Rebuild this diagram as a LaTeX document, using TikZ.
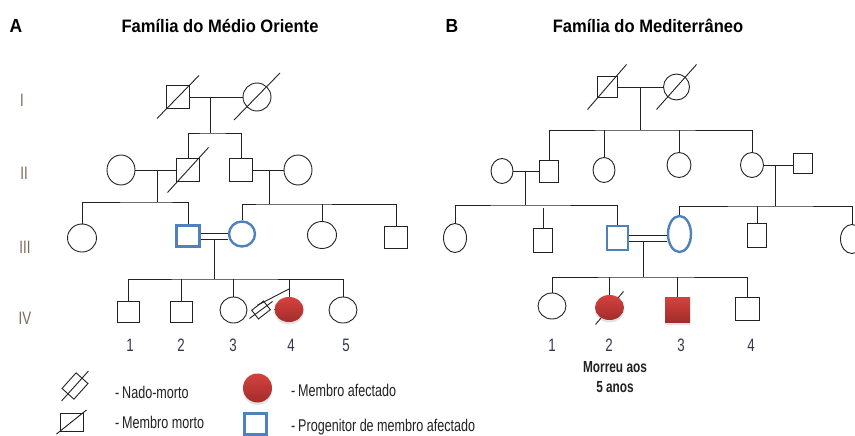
\documentclass[tikz,border=0pt]{standalone}
\usepackage{fontspec}
\setmainfont{Liberation Sans}[FakeStretch=0.74]
\newfontfamily\ttlfont{Liberation Sans}[FakeStretch=0.92]
\usetikzlibrary{shapes.geometric,shadows}
\definecolor{ln}{HTML}{222222}
\definecolor{blu}{HTML}{4F81BD}
\definecolor{redtop}{HTML}{D4423F}
\definecolor{redbot}{HTML}{A22D2A}
\definecolor{genc}{HTML}{7A6A5A}
\definecolor{numc}{HTML}{33384C}
\tikzset{
  pl/.style={draw=ln,line width=0.9pt},
  sz/.style 2 args={minimum width=#1pt,minimum height=#2pt},
  male/.style={pl,rectangle,inner sep=0pt,fill=white},
  fem/.style={pl,ellipse,inner sep=0pt,fill=white},
  bluesq/.style={draw=blu,line width=2.4pt,rectangle,inner sep=0pt,fill=white},
  bluefem/.style={draw=blu,line width=2.4pt,ellipse,inner sep=0pt,fill=white},
  affect/.style={inner sep=0pt,draw=none,top color=redtop,bottom color=redbot,
    drop shadow={opacity=0.22,shadow xshift=0pt,shadow yshift=-2.5pt}},
  sbirth/.style={pl,rectangle,inner sep=0pt,fill=white},
  ttl/.style={font=\ttlfont\bfseries\fontsize{18}{20}\selectfont,text=black,inner sep=0pt},
  panel/.style={font=\ttlfont\bfseries\fontsize{19}{21}\selectfont,text=black,inner sep=0pt},
  genlab/.style={font=\fontsize{18}{20}\selectfont,text=genc,inner sep=0pt},
  num/.style={font=\fontsize{18}{20}\selectfont,text=numc,inner sep=0pt},
  leg/.style={font=\fontsize{17}{19}\selectfont,text=ln,inner sep=0pt,anchor=west},
  note/.style={font=\bfseries\fontsize{16}{18}\selectfont,text=ln,inner sep=0pt}
}
\begin{document}
\begin{tikzpicture}[x=1pt,y=-1pt]
\useasboundingbox (0,0) rectangle (855,436);
\clip (0,0) rectangle (855,436);
\fill[white] (0,0) rectangle (855,436);

% ---------------- titles ----------------
\node[panel] (pA) at (16,25.5) {A};
\node[ttl] (tA) at (220,25.5) {Família do Médio Oriente};
\node[panel] (pB) at (452,25.5) {B};
\node[ttl] (tB) at (648,25.5) {Família do Mediterrâneo};

% generation labels
\node[genlab] (gI) at (22,100) {I};
\node[genlab] (gII) at (24,173) {II};
\node[genlab] (gIII) at (25,247) {III};
\node[genlab] (gIV) at (25,318) {IV};

% ================= PANEL A =================
% Gen I
\node[male,sz={23}{23}] (aI1) at (178,97) {};
\node[fem,sz={28}{28}] (aI2) at (257,97) {};
\draw[pl] (aI1) -- (aI2);
\draw[pl] (aI1.center) ++(-21,21.5) -- ++(42,-43);
\draw[pl] (aI2.center) ++(-23,23) -- ++(46,-47);
\coordinate (aM1) at (210,97);
\coordinate (aS1) at (210,133);
\draw[pl] (aM1) -- (aS1);

% Gen II
\node[fem,sz={28}{30}] (aII1) at (121,170) {};
\node[male,sz={23}{23}] (aII2) at (188,170) {};
\node[male,sz={23}{23}] (aII3) at (241,170) {};
\node[fem,sz={28}{30}] (aII4) at (298,170) {};
\draw[pl] (aII2.north) |- (aS1) -| (aII3.north);
\draw[pl] (aII1) -- (aII2);
\draw[pl] (aII3) -- (aII4);
\draw[pl] (aII2.center) ++(-20.5,22.5) -- ++(41,-45);
\coordinate (aM2) at (157,170);
\coordinate (aS2) at (157,202);
\coordinate (aM3) at (269,170);
\coordinate (aS3) at (269,204);
\draw[pl] (aM2) -- (aS2);
\draw[pl] (aM3) -- (aS3);

% Gen III
\node[fem,sz={29}{28}] (aIII1) at (82,238) {};
\node[bluesq,sz={23}{21}] (aIII2) at (188,236) {};
\node[bluefem,sz={26}{25}] (aIII3) at (242,234) {};
\node[fem,sz={29}{27}] (aIII4) at (322,235) {};
\node[male,sz={23}{22}] (aIII5) at (396,237) {};
\draw[pl] (aIII1.north) |- (aS2) -| (aIII2.north);
\draw[pl] (aIII3.north) |- (aS3) -| (aIII5.north);
\draw[pl] (aIII4.north) -- (aIII4.north |- aS3);
\draw[pl] ([yshift=3pt]aIII2.east) -- ([yshift=3pt]aIII2.east -| aIII3.west);
\draw[pl] ([yshift=-3pt]aIII2.east) -- ([yshift=-3pt]aIII2.east -| aIII3.west);
\coordinate (aM4) at (214,239);
\coordinate (aS4) at (214,279);
\draw[pl] (aM4) -- (aS4);

% Gen IV
\node[male,sz={22}{21}] (aIV1) at (128.5,311.5) {};
\node[male,sz={22}{21}] (aIV2) at (181,311.5) {};
\node[fem,sz={27}{26}] (aIV3) at (233.5,310) {};
\node[affect,ellipse,sz={29}{25}] (aIV4) at (289,309.5) {};
\node[fem,sz={28}{26}] (aIV5) at (343,310) {};
\draw[pl] (aIV1.north) |- (aS4) -| (aIV5.north);
\draw[pl] (aIV2.north) -- (aIV2.north |- aS4);
\draw[pl] (aIV3.north) -- (aIV3.north |- aS4);
\draw[pl] (aIV4.north) -- (aIV4.north |- aS4);
\node[sbirth,sz={15}{11},rotate=38] (aSB) at (261,310) {};
\coordinate (aSBj) at (289,289);
\draw[pl] (aSBj) -- (aSB.north);
\draw[pl] (aSB.center) ++(-11.5,8.5) -- ++(23,-17);

\node[num] (aN1) at (130,345) {1};
\node[num] (aN2) at (181,345) {2};
\node[num] (aN3) at (233,345) {3};
\node[num] (aN4) at (291,345) {4};
\node[num] (aN5) at (346,345) {5};

% ================= PANEL B =================
% Gen I
\node[male,sz={20}{21}] (bI1) at (607,87) {};
\node[fem,sz={26}{26}] (bI2) at (676.5,87) {};
\draw[pl] (bI1) -- (bI2);
\draw[pl] (bI1.center) ++(-19.5,22.5) -- ++(39,-45);
\draw[pl] (bI2.center) ++(-20,22.5) -- ++(40,-45);
\coordinate (bM1) at (640,87);
\coordinate (bS1) at (640,130);
\draw[pl] (bM1) -- (bS1);

% Gen II
\node[fem,sz={22}{25}] (bII1) at (502,171) {};
\node[male,sz={19}{22}] (bII2) at (549,171) {};
\node[fem,sz={22}{25}] (bII3) at (604,170) {};
\node[fem,sz={24}{25}] (bII4) at (679,165) {};
\node[fem,sz={23}{25}] (bII5) at (752,165) {};
\node[male,sz={19}{20}] (bII6) at (803,163) {};
\draw[pl] (bII2.north) |- (bS1) -| (bII5.north);
\draw[pl] (bII3.north) -- (bII3.north |- bS1);
\draw[pl] (bII4.north) -- (bII4.north |- bS1);
\draw[pl] (bII1) -- (bII2);
\draw[pl] (bII5.east) -- (bII5.east -| bII6.west);
\coordinate (bM2) at (525,171);
\coordinate (bS2) at (525,205);
\coordinate (bM3) at (775,165);
\coordinate (bS3) at (775,206);
\draw[pl] (bM2) -- (bS2);
\draw[pl] (bM3) -- (bS3);

% Gen III
\node[fem,sz={23}{29}] (bIII1) at (455,238) {};
\node[male,sz={19}{24}] (bIII2) at (543,240.5) {};
\node[bluesq,sz={21}{24}] (bIII3) at (617.5,238) {};
\node[bluefem,sz={23}{36}] (bIII4) at (679.5,234) {};
\node[male,sz={19}{24}] (bIII5) at (757,235.5) {};
\node[fem,sz={23}{29}] (bIII6) at (852,239) {};
\draw[pl] (bIII1.north) |- (bS2) -| (bIII3.north);
\draw[pl] (bIII2.north) -- ([yshift=-3pt]bIII2.north |- bS2);
\draw[pl] (bIII4.north) |- (bS3) -| (bIII6.north);
\draw[pl] (bIII5.north) -- (bIII5.north |- bS3);
\draw[pl] ([yshift=3pt]bIII3.east) -- ([yshift=3pt]bIII3.east -| bIII4.west);
\draw[pl] ([yshift=-3pt]bIII3.east) -- ([yshift=-3pt]bIII3.east -| bIII4.west);
\coordinate (bM4) at (643,241);
\coordinate (bS4) at (643,277);
\draw[pl] (bM4) -- (bS4);

% Gen IV
\coordinate (bIV2c) at (609.5,307.5);
\draw[pl] (bIV2c) ++(-14,17) -- ++(28,-33);
\node[fem,sz={28}{26}] (bIV1) at (552,306) {};
\node[affect,ellipse,sz={29}{25}] (bIV2) at (bIV2c) {};
\node[affect,rectangle,sz={25}{25}] (bIV3) at (677.5,309.5) {};
\node[male,sz={24}{23}] (bIV4) at (747,309) {};
\draw[pl] (bIV1.north) |- (bS4) -| (bIV4.north);
\draw[pl] (bIV2.north) -- (bIV2.north |- bS4);
\draw[pl] (bIV3.north) -- (bIV3.north |- bS4);

\node[num] (bN1) at (552,345) {1};
\node[num] (bN2) at (609,345) {2};
\node[num] (bN3) at (681,345) {3};
\node[num] (bN4) at (751,345) {4};
\node[note] (bT1) at (615,367) {Morreu aos};
\node[note] (bT2) at (615,387) {5 anos};

% ================= LEGEND =================
\node[sbirth,sz={21}{16},rotate=48] (lSB) at (75,386) {};
\draw[pl] (lSB.center) ++(-13.4,14.9) -- ++(26.8,-29.8);
\node[leg] (lT1) at (115,392) {-\,Nado-morto};
\node[male,sz={23}{18}] (lMM) at (71.5,422) {};
\draw[pl] (lMM.center) ++(-15,12) -- ++(30,-24);
\node[leg] (lT2) at (115,422) {-\,Membro morto};
\node[affect,circle,sz={29}{29}] (lAF) at (257.5,388) {};
\node[leg] (lT3) at (291,390) {-\,Membro afectado};
\node[bluesq,sz={22}{21}] (lPG) at (255.5,424) {};
\node[leg] (lT4) at (291,427) {-\,Progenitor de membro afectado};
\end{tikzpicture}
\end{document}
